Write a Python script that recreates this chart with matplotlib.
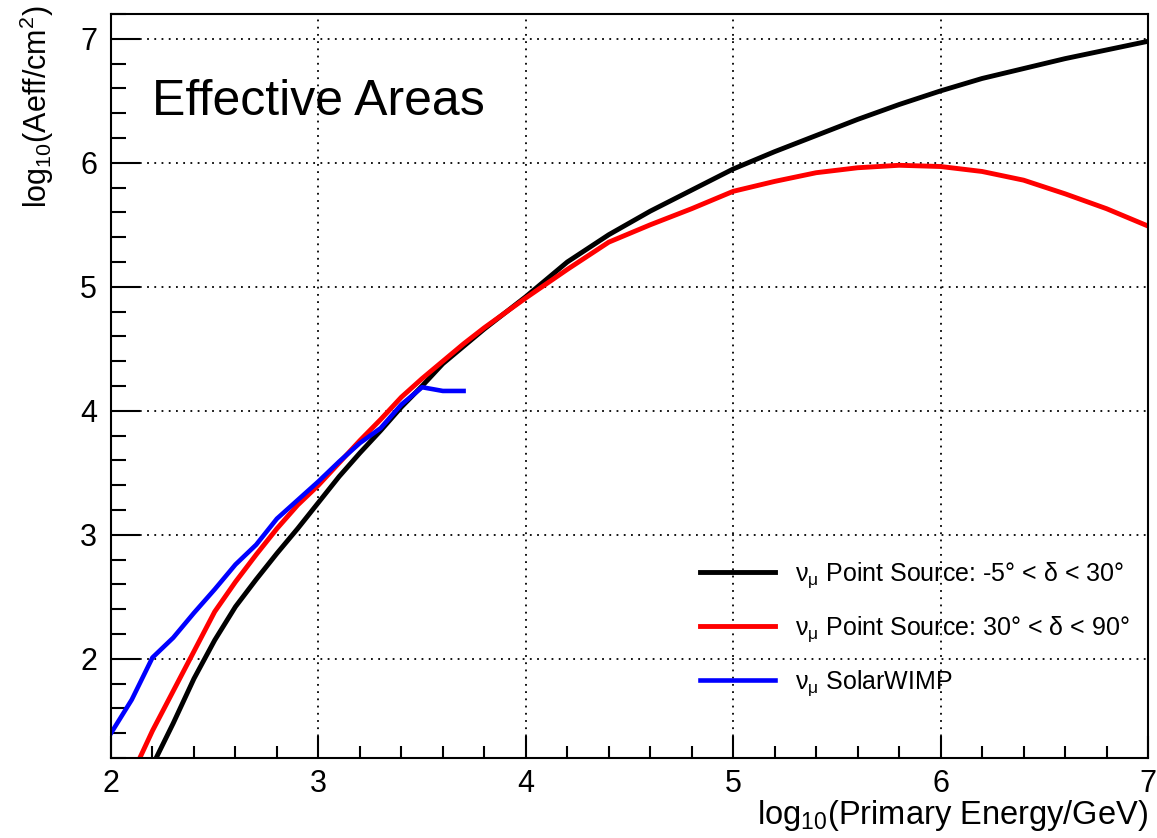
import matplotlib
matplotlib.use('Agg')
import matplotlib.pyplot as plt
import numpy as np

plt.rcParams['font.family'] = ['Liberation Sans', 'DejaVu Sans']
plt.rcParams['mathtext.fontset'] = 'custom'
plt.rcParams['mathtext.rm'] = 'Liberation Sans'
plt.rcParams['mathtext.it'] = 'Liberation Sans:italic'
plt.rcParams['mathtext.bf'] = 'Liberation Sans:bold'

# log10(E/GeV) vs log10(Aeff/cm^2)
ps_low_x = [2.2, 2.3, 2.4, 2.5, 2.6, 2.7, 2.8, 2.9, 3.0, 3.1, 3.2, 3.3, 3.4, 3.5,
            3.6, 3.7, 3.8, 3.9, 4.0, 4.2, 4.4, 4.6, 4.8, 5.0, 5.2, 5.4, 5.6, 5.8,
            6.0, 6.2, 6.4, 6.6, 6.8, 7.0]
ps_low_y = [1.14, 1.48, 1.84, 2.15, 2.42, 2.64, 2.85, 3.05, 3.26, 3.47, 3.66, 3.84,
            4.03, 4.20, 4.38, 4.52, 4.66, 4.79, 4.92, 5.20, 5.42, 5.61, 5.78, 5.95,
            6.09, 6.22, 6.35, 6.47, 6.58, 6.68, 6.76, 6.84, 6.91, 6.98]

ps_high_x = [2.1, 2.2, 2.3, 2.4, 2.5, 2.6, 2.7, 2.8, 2.9, 3.0, 3.1, 3.2, 3.3, 3.4,
             3.5, 3.6, 3.7, 3.8, 3.9, 4.0, 4.2, 4.4, 4.6, 4.8, 5.0, 5.2, 5.4, 5.6,
             5.8, 6.0, 6.2, 6.4, 6.6, 6.8, 7.0]
ps_high_y = [1.06, 1.42, 1.74, 2.06, 2.38, 2.62, 2.84, 3.05, 3.24, 3.40, 3.58, 3.76,
             3.93, 4.11, 4.26, 4.40, 4.54, 4.67, 4.79, 4.91, 5.14, 5.36, 5.50, 5.63,
             5.77, 5.85, 5.92, 5.96, 5.98, 5.97, 5.93, 5.86, 5.75, 5.63, 5.49]

wimp_x = [2.0, 2.1, 2.2, 2.3, 2.4, 2.5, 2.6, 2.7, 2.8, 2.9, 3.0, 3.1, 3.2, 3.3,
          3.4, 3.5, 3.6, 3.7]
wimp_y = [1.40, 1.67, 2.01, 2.17, 2.37, 2.56, 2.76, 2.92, 3.13, 3.28, 3.43, 3.59,
          3.74, 3.86, 4.05, 4.19, 4.16, 4.16]

labels = [r'ν$_{\mathrm{μ}}$ Point Source: -5° < δ < 30°',
          r'ν$_{\mathrm{μ}}$ Point Source: 30° < δ < 90°',
          r'ν$_{\mathrm{μ}}$ SolarWIMP']
colors = ['black', '#ff0000', '#0000ff']

fig = plt.figure(figsize=(11.57, 8.38), dpi=100)
ax = fig.add_axes([111 / 1157, 1 - 758 / 838, (1148 - 111) / 1157, (758 - 14) / 838])

ax.plot(ps_low_x, ps_low_y, color=colors[0], lw=3.5, label=labels[0])
ax.plot(ps_high_x, ps_high_y, color=colors[1], lw=3.5, label=labels[1])
ax.plot(wimp_x, wimp_y, color=colors[2], lw=3.3, label=labels[2])

ax.set_xlim(2, 7)
ax.set_ylim(1.2, 7.2)
ax.set_xticks(np.arange(2, 8, 1))
ax.set_yticks(np.arange(2, 8, 1))
ax.set_xticks(np.arange(2, 7.01, 0.2), minor=True)
ax.set_yticks(np.arange(1.2, 7.21, 0.2), minor=True)
ax.tick_params(which='both', direction='in', top=False, right=False, width=1.5)
ax.tick_params(axis='x', which='major', length=16, labelsize=22, pad=8)
ax.tick_params(axis='x', which='minor', length=8.5)
ax.tick_params(axis='y', which='major', length=21, labelsize=22, pad=10)
ax.tick_params(axis='y', which='minor', length=11)
for sp in ax.spines.values():
    sp.set_linewidth(1.5)

ax.grid(True, which='major', color='black', linestyle=(0, (1, 3)), linewidth=1.3)

ax.text(0.0395, 0.864, 'Effective Areas', transform=ax.transAxes,
        fontsize=36, ha='left', va='baseline')

ax.set_xlabel(r'log$_{\mathrm{10}}$(Primary Energy/GeV)', fontsize=23.5, ha='right', va='top')
ax.xaxis.set_label_coords(1.0, -0.054)
ax.set_ylabel(r'log$_{\mathrm{10}}$(Aeff/cm$^{\mathrm{2}}$)', fontsize=22, ha='right', va='center')
ax.yaxis.set_label_coords(-0.0714, 1.012)

ax.legend(loc='upper left', bbox_to_anchor=(0.568, 0.266), frameon=False,
          fontsize=18, handlelength=3.0, handletextpad=0.8, labelspacing=0.98,
          borderpad=0, borderaxespad=0)

fig.savefig('out.png', dpi=100)
